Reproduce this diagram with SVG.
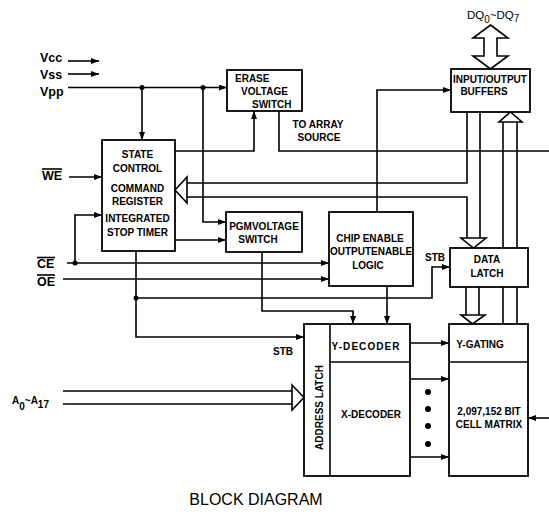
<svg xmlns="http://www.w3.org/2000/svg" width="549" height="514" viewBox="0 0 549 514">
<style>
.ln{fill:none;stroke:#000;stroke-width:1.6}
.box{fill:#fff;stroke:#000;stroke-width:1.8}
.wa{fill:#fff;stroke:#000;stroke-width:1.6;stroke-linejoin:miter}
.t{font-family:"Liberation Sans",Arial,sans-serif;font-weight:bold;font-size:10px;text-anchor:middle;fill:#000}
.ts{font-family:"Liberation Sans",Arial,sans-serif;font-weight:bold;font-size:10px;fill:#000}
.lbl{font-family:"Liberation Sans",Arial,sans-serif;font-weight:bold;font-size:12.5px;fill:#000}
.dot{fill:#000}
</style>
<defs>
<marker id="ah" markerWidth="8" markerHeight="6" refX="8" refY="3" orient="auto" markerUnits="userSpaceOnUse"><path d="M0,0 L8,3 L0,6 z" fill="#000"/></marker>
</defs>
<g id="connectors">
<path class="ln" d="M68,61 H99" marker-end="url(#ah)"/>
<path class="ln" d="M68,74 H99" marker-end="url(#ah)"/>
<path class="ln" d="M68,87.5 H227" marker-end="url(#ah)"/>
<path class="ln" d="M142,87.5 V140" marker-end="url(#ah)"/>
<path class="ln" d="M203,87.5 V222 H226" marker-end="url(#ah)"/>
<path class="ln" d="M175,151 H254 V111" marker-end="url(#ah)"/>
<path class="ln" d="M279,111 V151 H549"/>
<path class="ln" d="M69,177 H102" marker-end="url(#ah)"/>
<path class="ln" d="M67,263 H329" marker-end="url(#ah)"/>
<path class="ln" d="M75,263 V215 H102" marker-end="url(#ah)"/>
<path class="ln" d="M63,279 H329" marker-end="url(#ah)"/>
<path class="ln" d="M175,240 H226" marker-end="url(#ah)"/>
<path class="ln" d="M467,112 V183 H187"/>
<path class="ln" d="M187,197 H467 V238"/>
<path class="ln" d="M480,112 V238"/>
<polygon class="wa" points="461,238 486,238 473.5,248"/>
<polygon class="wa" points="187,177 175,190 187,203"/>
<path class="ln" d="M466,287 V315 M479,287 V315"/>
<polygon class="wa" points="461,315 485,315 472.5,324"/>
<path class="ln" d="M503,324 V122 M517,324 V122"/>
<polygon class="wa" points="499,122 522,122 510.5,112"/>
<polygon class="wa" points="490.5,25 508,38 497,38 497,56 508,56 490.5,69 473,56 484,56 484,38 473,38"/>
<path class="ln" d="M377,212 V90 H451" marker-end="url(#ah)"/>
<path class="ln" d="M136,251 V337 H304" marker-end="url(#ah)"/>
<path class="ln" d="M136,298 H432 V267 H450" marker-end="url(#ah)"/>
<path class="ln" d="M262,252 V311 H353 V324" marker-end="url(#ah)"/>
<path class="ln" d="M387,286 V324" marker-end="url(#ah)"/>
<path class="ln" d="M63,391 H292 M63,404 H292"/>
<polygon class="wa" points="292,385 304,397.5 292,410"/>
<path class="ln" d="M410,343 H449" marker-end="url(#ah)"/>
<path class="ln" d="M410,379 H449" marker-end="url(#ah)"/>
<path class="ln" d="M410,457 H449" marker-end="url(#ah)"/>
<path class="ln" d="M549,418 H528" marker-end="url(#ah)"/>
<circle class="dot" cx="142" cy="87.5" r="2.5"/>
<circle class="dot" cx="203" cy="87.5" r="2.5"/>
<circle class="dot" cx="75" cy="263" r="2.5"/>
<circle class="dot" cx="136" cy="298" r="2.5"/>
<circle class="dot" cx="428" cy="392" r="3"/>
<circle class="dot" cx="428" cy="409" r="3"/>
<circle class="dot" cx="428" cy="426" r="3"/>
<circle class="dot" cx="428" cy="444" r="3"/>
</g>
<g id="labels">
<text class="lbl" x="40" y="62">Vcc</text>
<text class="lbl" x="40" y="79">Vss</text>
<text class="lbl" x="40" y="96">Vpp</text>
<text class="lbl" x="42" y="180">WE</text>
<line class="ln" x1="42" y1="169" x2="62" y2="169" stroke-width="1.3"/>
<text class="lbl" x="37" y="268">CE</text>
<line class="ln" x1="37" y1="257.5" x2="55" y2="257.5" stroke-width="1.3"/>
<text class="lbl" x="37" y="286">OE</text>
<line class="ln" x1="37" y1="275" x2="55" y2="275" stroke-width="1.3"/>
<text class="ts" x="12" y="403.5" font-size="9">A<tspan dy="6.5">0</tspan><tspan dy="-6.5">~A</tspan><tspan dy="4.5">17</tspan></text>
<text x="467" y="19" font-family="Liberation Sans, Arial, sans-serif" font-size="11.5">DQ<tspan dy="4" font-size="10">0</tspan><tspan dy="-4">~DQ</tspan><tspan dy="3" font-size="10">7</tspan></text>
<text class="t" x="318" y="128">TO ARRAY</text>
<text class="t" x="319" y="141">SOURCE</text>
<text class="t" x="435" y="261">STB</text>
<text class="t" x="283" y="355">STB</text>
<text x="256" y="505" font-family="Liberation Sans, Arial, sans-serif" font-size="16" text-anchor="middle">BLOCK DIAGRAM</text>
</g>
<g id="erase-voltage-switch">
<rect class="box" x="227" y="70" width="75" height="41"/>
<text class="ts" x="235" y="82">ERASE</text>
<text class="ts" x="241" y="95">VOLTAGE</text>
<text class="ts" x="252" y="108">SWITCH</text>
</g>
<g id="state-control">
<rect class="box" x="102" y="140" width="73" height="111"/>
<text class="t" x="137.5" y="158">STATE</text>
<text class="t" x="137.5" y="172">CONTROL</text>
<text class="t" x="137.5" y="192">COMMAND</text>
<text class="t" x="137.5" y="205">REGISTER</text>
<text class="t" x="137.5" y="222">INTEGRATED</text>
<text class="t" x="137.5" y="236">STOP TIMER</text>
</g>
<g id="pgm-voltage-switch">
<rect class="box" x="226" y="212" width="76" height="40"/>
<text class="t" x="264" y="230">PGMVOLTAGE</text>
<text class="t" x="258" y="243">SWITCH</text>
</g>
<g id="chip-enable-logic">
<rect class="box" x="329" y="212" width="84" height="74"/>
<text class="t" x="370" y="242">CHIP ENABLE</text>
<text class="t" x="371" y="255">OUTPUTENABLE</text>
<text class="t" x="368" y="269">LOGIC</text>
</g>
<g id="io-buffers">
<rect class="box" x="451" y="69" width="79" height="43"/>
<text class="t" x="490" y="83">INPUT/OUTPUT</text>
<text class="t" x="484" y="95">BUFFERS</text>
</g>
<g id="data-latch">
<rect class="box" x="450" y="248" width="78" height="39"/>
<text class="t" x="487" y="263">DATA</text>
<text class="t" x="487" y="277">LATCH</text>
</g>
<g id="address-latch-decoders">
<rect class="box" x="304" y="324" width="106" height="152"/>
<line class="ln" x1="330" y1="324" x2="330" y2="476" stroke-width="1.8"/>
<line class="ln" x1="330" y1="362" x2="410" y2="362" stroke-width="1.8"/>
<text class="t" transform="translate(322.5,407.5) rotate(-90)">ADDRESS LATCH</text>
<text class="t" x="365.5" y="350" textLength="68">Y-DECODER</text>
<text class="t" x="371" y="418">X-DECODER</text>
</g>
<g id="y-gating-cell-matrix">
<rect class="box" x="449" y="324" width="79" height="152"/>
<line class="ln" x1="449" y1="362" x2="528" y2="362" stroke-width="1.8"/>
<text class="t" x="480" y="348">Y-GATING</text>
<text class="t" x="489" y="415">2,097,152 BIT</text>
<text class="t" x="489" y="428">CELL MATRIX</text>
</g>
</svg>
